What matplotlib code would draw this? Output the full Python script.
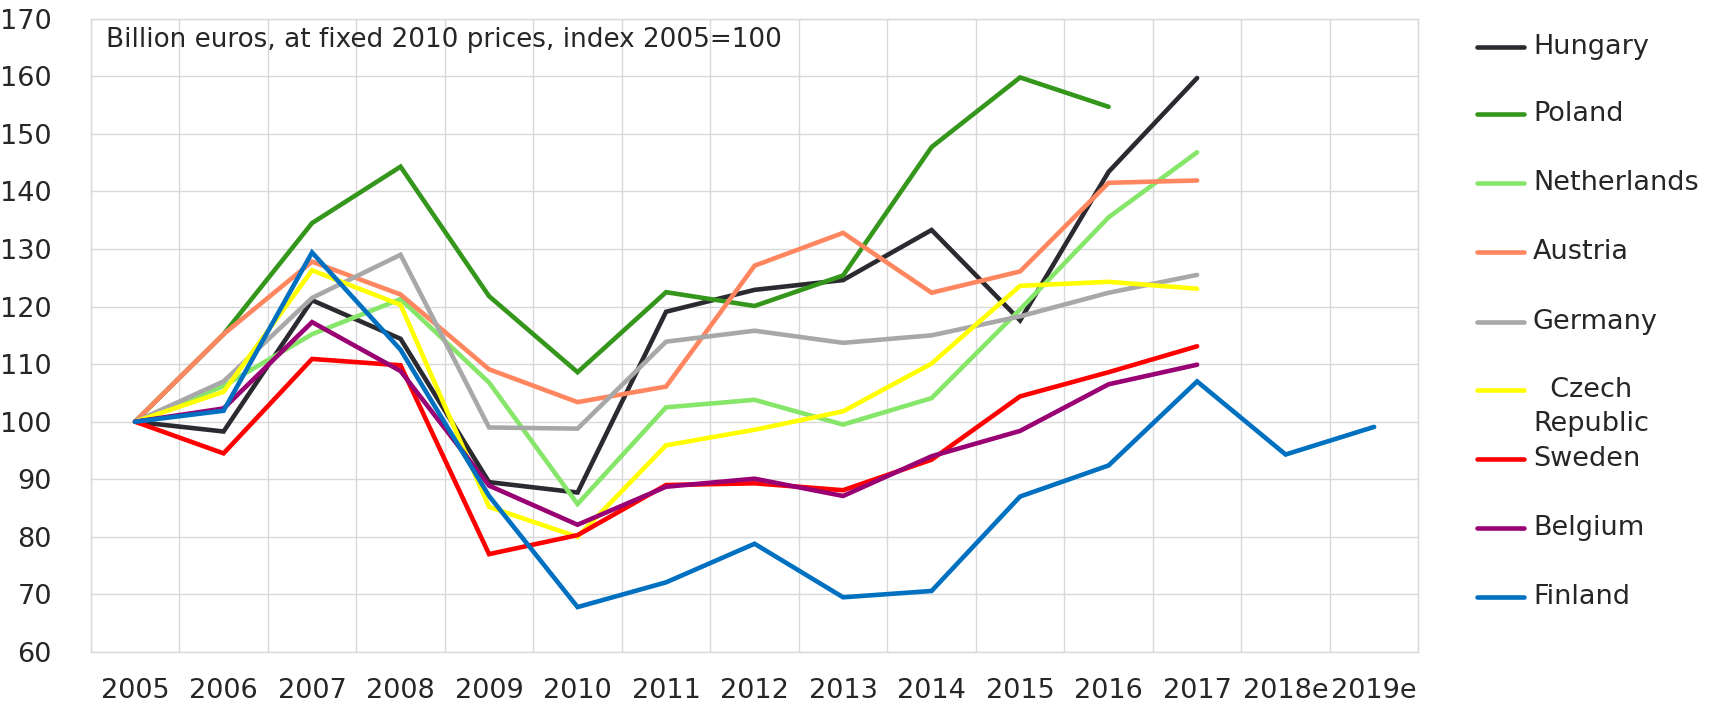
import matplotlib
matplotlib.use("Agg")
import matplotlib.pyplot as plt
from matplotlib.lines import Line2D

years = ["2005", "2006", "2007", "2008", "2009", "2010", "2011", "2012",
         "2013", "2014", "2015", "2016", "2017", "2018e", "2019e"]

hungary     = [100, 98.3, 121.1, 114.4, 89.5, 87.7, 119.1, 122.9, 124.6, 133.3, 117.6, 143.4, 159.7]
poland      = [100, 115.2, 134.5, 144.3, 121.8, 108.6, 122.5, 120.1, 125.4, 147.7, 159.8, 154.7]
netherlands = [100, 106.2, 115.2, 121.3, 106.8, 85.7, 102.5, 103.8, 99.5, 104.1, 119.5, 135.5, 146.8]
austria     = [100, 115.2, 127.8, 122.1, 109.1, 103.4, 106.1, 127.1, 132.8, 122.4, 126.1, 141.5, 141.9]
germany     = [100, 107.0, 121.5, 129.0, 99.0, 98.8, 113.9, 115.8, 113.7, 115.0, 118.3, 122.4, 125.5]
czech       = [100, 105.2, 126.3, 120.3, 85.2, 80.0, 95.9, 98.6, 101.8, 110.1, 123.6, 124.3, 123.1]
sweden      = [100, 94.5, 110.9, 109.8, 77.0, 80.3, 89.0, 89.3, 88.1, 93.4, 104.4, 108.6, 113.1]
belgium     = [100, 102.3, 117.3, 108.8, 88.9, 82.1, 88.7, 90.1, 87.1, 94.0, 98.4, 106.5, 109.9]
finland     = [100, 101.9, 129.4, 112.5, 87.1, 67.8, 72.1, 78.8, 69.5, 70.6, 87.0, 92.4, 107.0, 94.3, 99.1]

series_names = ["Hungary", "Poland", "Netherlands", "Austria", "Germany",
                "  Czech\nRepublic", "Sweden", "Belgium", "Finland"]
series_vals = [hungary, poland, netherlands, austria, germany, czech, sweden, belgium, finland]
colors = ["#2a2a30", "#35961c", "#86e66a", "#ff865f", "#a8a8a8",
          "#ffff00", "#ff0000", "#990073", "#0070c0"]

title = "Billion euros, at fixed 2010 prices, index 2005=100"
text_color = "#262626"

fig = plt.figure(figsize=(17.13, 7.06), dpi=100)
ax = fig.add_axes([0.053, 0.0765, 0.775, 0.897])

draw_order = [4, 3, 2, 5, 0, 1, 6, 7, 8]
for i in draw_order:
    vals = series_vals[i]
    ax.plot(range(len(vals)), vals, color=colors[i], lw=3.3,
            solid_capstyle="round", solid_joinstyle="miter", zorder=3 + i * 0.01)

ax.set_xlim(-0.5, len(years) - 0.5)
ax.set_ylim(60, 170)
ax.set_yticks(range(60, 171, 10))
ax.set_xticks(range(len(years)))
ax.set_xticklabels(years)
ax.set_xticks([i + 0.5 for i in range(-1, len(years))], minor=True)

ax.grid(False)
ax.yaxis.grid(True, which="major", color="#d9d9d9", lw=1.0)
ax.xaxis.grid(True, which="minor", color="#d9d9d9", lw=1.0)
ax.set_axisbelow(True)
for s in ax.spines.values():
    s.set_color("#d9d9d9")
    s.set_linewidth(1.0)
ax.tick_params(axis="both", which="both", length=0, labelsize=19.5, colors=text_color)
ax.tick_params(axis="y", pad=28)
ax.tick_params(axis="x", pad=19)

ax.text(0.0113, 0.967, title, transform=ax.transAxes, fontsize=18.9,
        color=text_color, ha="left", va="center")

# manual legend
W, H = 1713.0, 706.0
leg_y = [47, 113.6, 182.5, 252, 322, 390, 459, 528, 596.5]
for name, c, y in zip(series_names, colors, leg_y):
    fy = 1 - y / H
    fig.add_artist(Line2D([1477 / W, 1524 / W], [fy, fy], color=c, lw=3.3,
                          solid_capstyle="round", transform=fig.transFigure))
    if "\n" in name:
        fig.text(1533 / W, fy, name.split("\n")[0], fontsize=19.5, color=text_color,
                 ha="left", va="center")
        fig.text(1533 / W, 1 - (y + 34) / H, name.split("\n")[1], fontsize=19.5,
                 color=text_color, ha="left", va="center")
    else:
        fig.text(1533 / W, fy, name, fontsize=19.5, color=text_color,
                 ha="left", va="center")

fig.savefig("out.png", dpi=100)
